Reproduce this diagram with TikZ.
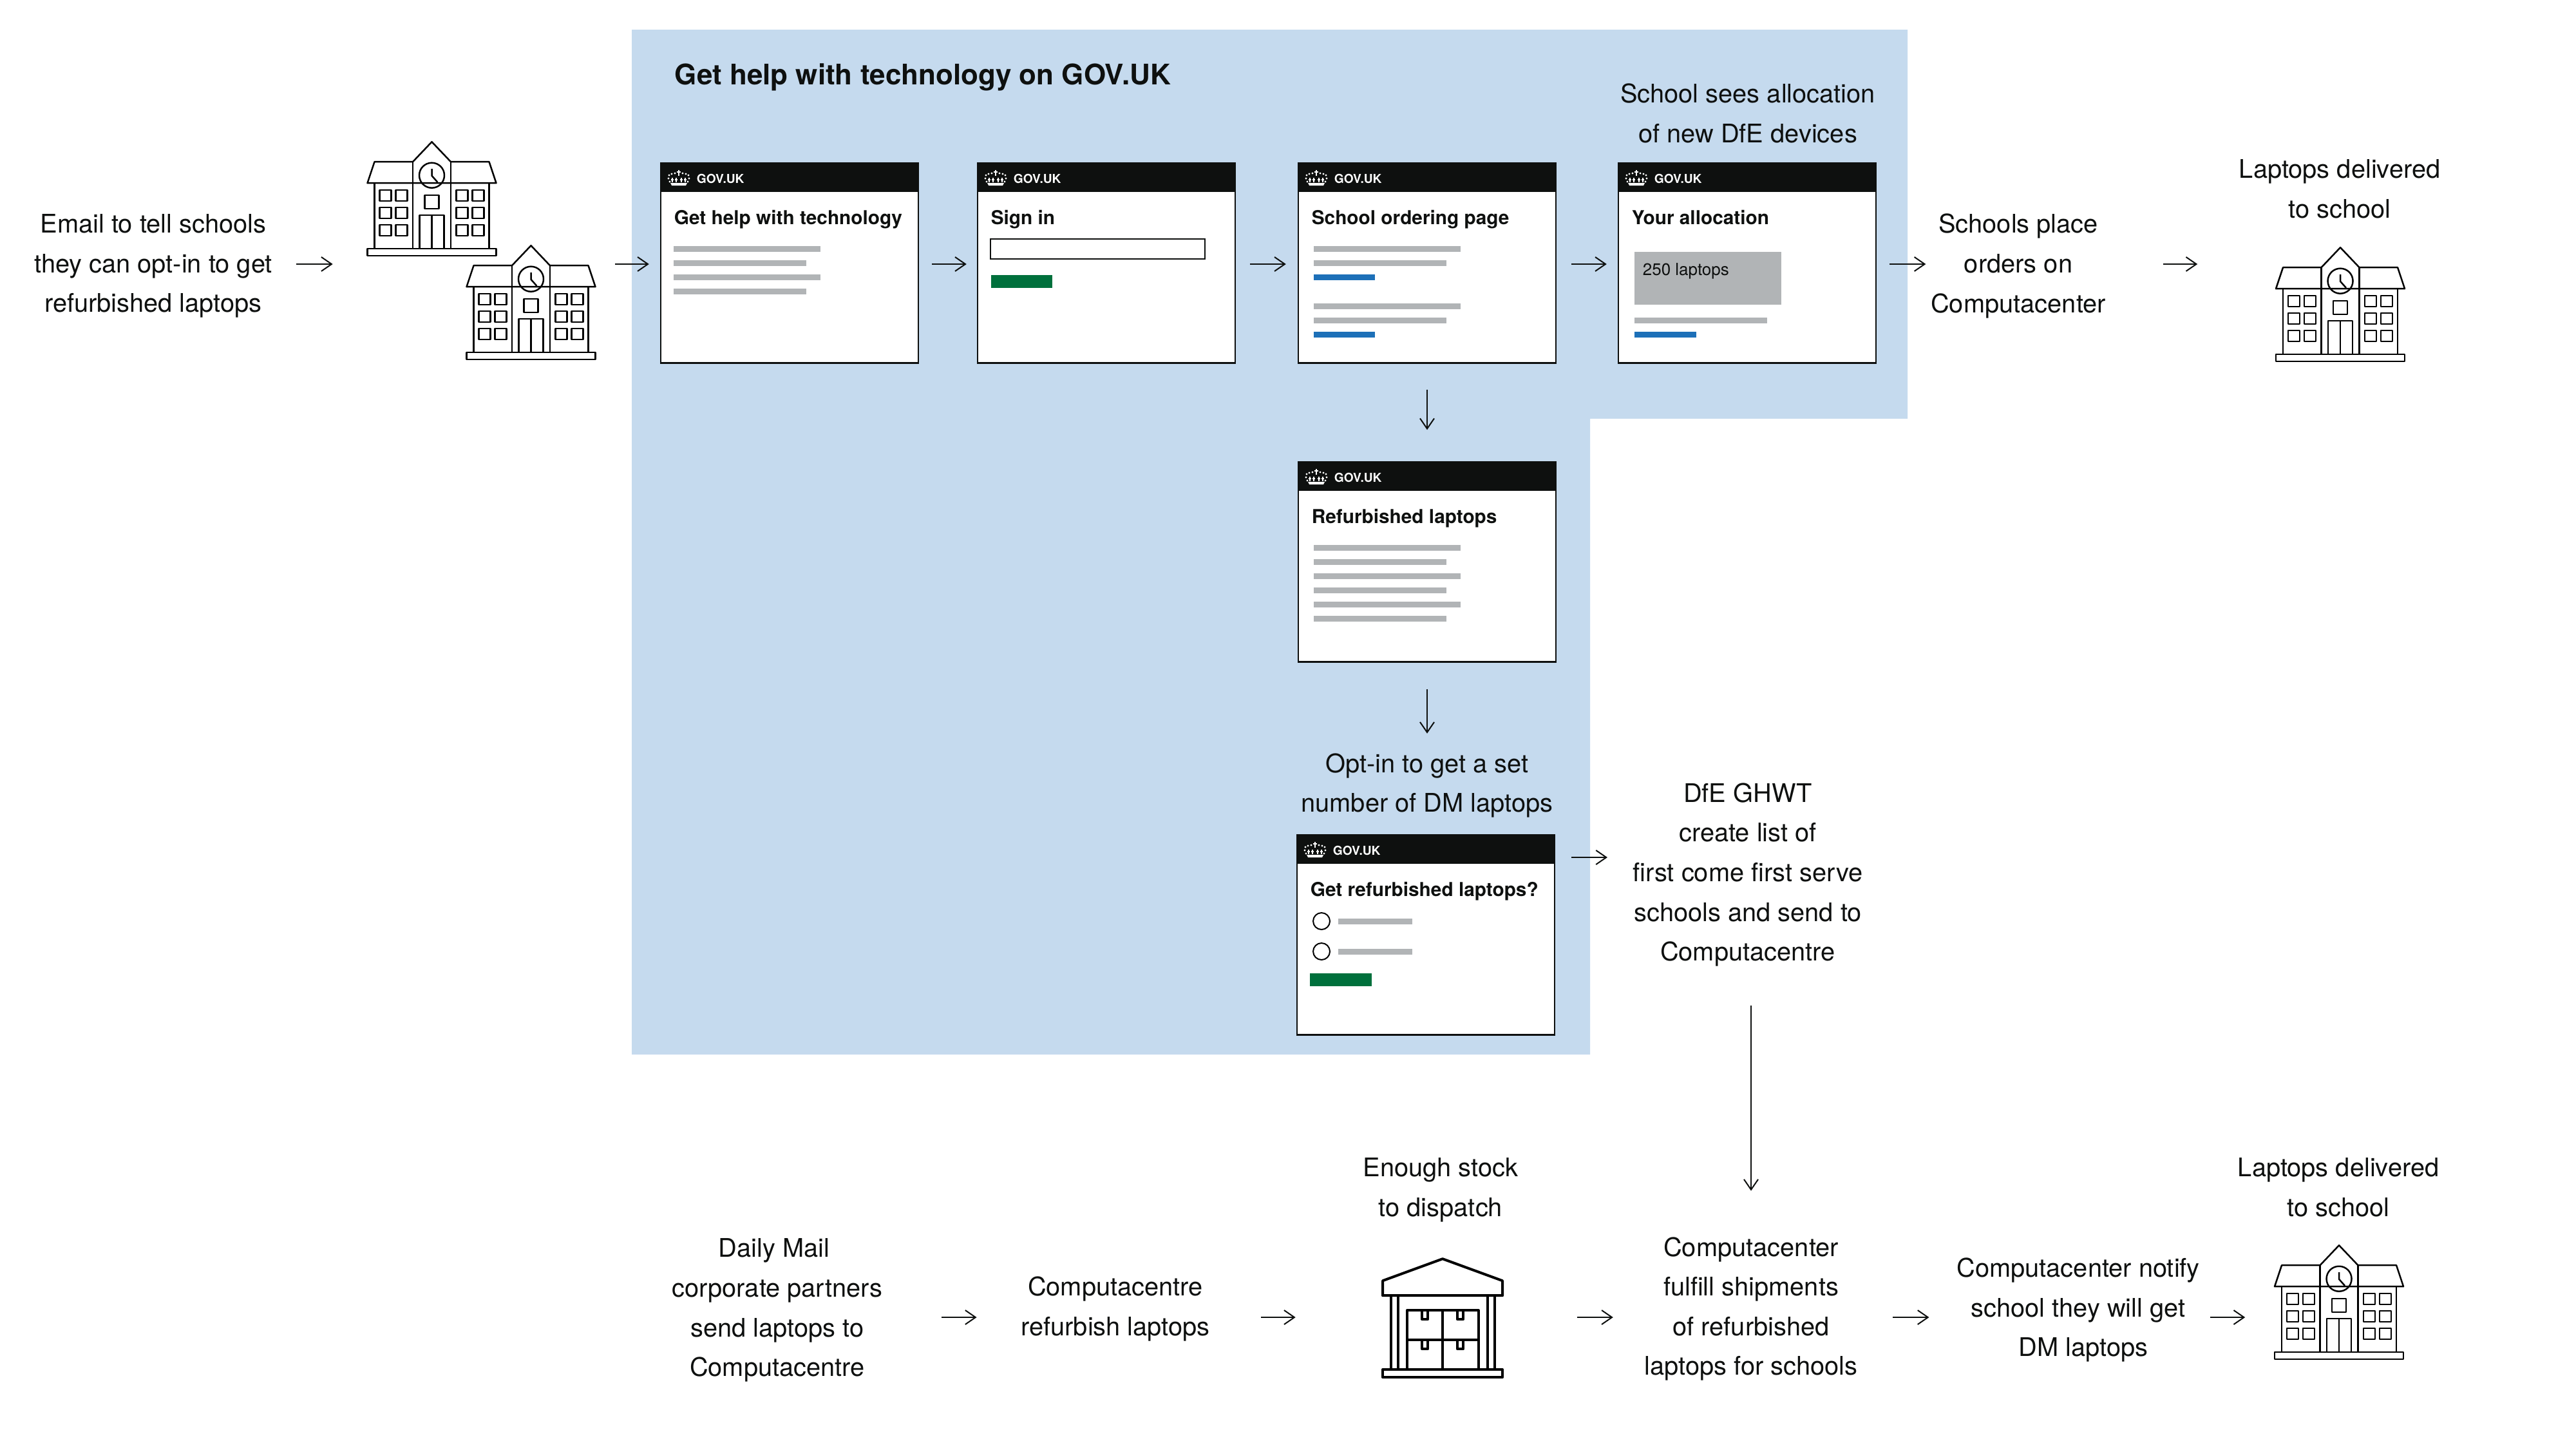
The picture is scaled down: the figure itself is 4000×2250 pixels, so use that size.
\documentclass[tikz,border=0pt]{standalone}
\usepackage{fontspec}
\setmainfont{TeX Gyre Heros}
\usepackage{xcolor}
\usetikzlibrary{arrows.meta}
\definecolor{panelblue}{HTML}{C5DAEE}
\definecolor{govblack}{HTML}{0E100F}
\definecolor{govgrey}{HTML}{B1B4B6}
\definecolor{govblue}{HTML}{1D70B8}
\definecolor{govgreen}{HTML}{00703C}
\tikzset{
  link/.style={->,>={Straight Barb[length=4pt,width=5.5pt]},line width=0.5pt,draw=govblack},
  gap/.style 2 args={shorten <=#1*0.25pt,shorten >=#2*0.25pt},
  note/.style={align=center,inner sep=0pt,text=govblack,font=\fontsize{9.95}{15.4}\selectfont},
  pagebox/.style={draw=govblack,fill=white,line width=0.6pt,inner sep=0pt,minimum width=100pt,minimum height=77.5pt},
  govmark/.style={anchor=base west,inner sep=0pt,text=white,font=\fontsize{4.8}{6}\selectfont\bfseries},
  cardtitle/.style={anchor=base west,inner sep=0pt,text=govblack,font=\fontsize{7.45}{9}\selectfont\bfseries},
  iconbox/.style={inner sep=0pt,minimum width=50pt,minimum height=44.5pt},
  crown/.pic={
    \fill[white] (-13,8) -- (13,8) -- (11,12) -- (-11,12) -- cycle;
    \draw[white,line width=0.35pt] (0,-12) -- (0,-3) (-3,-9) -- (3,-9);
    \foreach \cx in {-10,-4,4,10}
    \draw[white,line width=0.35pt] (\cx,0) -- (\cx,7) (\cx-2,3) -- (\cx+2,3);
    \foreach \dx/\dy in {-15/-4,-11/-6,-6/-7,6/-7,11/-6,15/-4,-16/1,16/1,-14/6,14/6}
    \fill[white] (\dx,\dy) circle [radius=1.6];
  },
  school/.pic={
    \begin{scope}[line width=0.62pt,line join=round,draw=black]
    \draw (-100,64) -- (-89,31) -- (-29.5,31) -- (0,0) -- (29.5,31) -- (89,31) -- (100,64) -- cycle;
    \draw (-29.5,31) -- (-29.5,166) (29.5,31) -- (29.5,166);
    \draw (-89,64) -- (-89,166) (89,64) -- (89,166);
    \draw (-100,166) rectangle (100,177);
    \draw (0,52) circle [radius=19.5];
    \draw (0,42) -- (0,52.6) -- (9,62.7);
    \draw (-11,83) rectangle (11,104);
    \draw (-19,166) -- (-19,114) -- (19,114) -- (19,166) (0,114) -- (0,166);
    \foreach \wx in {-81,-56,38,63}
    \foreach \wy in {75,102,129}
    \draw (\wx,\wy) rectangle ++(18,17);
    \end{scope}
  },
  warehouse/.pic={
    \begin{scope}[line width=1pt,line join=round,draw=black]
    \draw (0,3) -- (93,37) -- (93,60) -- (-93,60) -- (-93,37) -- cycle;
    \draw (-80,60) -- (-80,175) (-69,60) -- (-69,175) (70,60) -- (70,175) (81,60) -- (81,175);
    \draw (-93,175) rectangle (93,187);
    \draw (-55,175) -- (-55,83) -- (55.5,83) -- (55.5,175);
    \draw (0,83) -- (0,175) (-55,129) -- (55.5,129);
    \foreach \ty in {83,129}
    \foreach \tx in {-32,23}
    \draw (\tx,\ty) -- (\tx,\ty+14) -- (\tx+9,\ty+14) -- (\tx+9,\ty);
    \end{scope}
  }
}
\newcommand{\govpage}[4]{%
  \node[pagebox] (#1) at (#2+200,#3+155.5) {};
  \fill[govblack] (#2,#3) rectangle ++(400,45);
  \pic at (#2+28,#3+23) {crown};
  \node[govmark] (#1mark) at (#2+55,#3+31) {GOV.UK};
  \node[cardtitle] (#1title) at (#2+20,#3+95) {#4};
}
\newcommand{\schoolat}[3]{%
  \node[iconbox] (#1) at (#2,#3+89) {};
  \pic at (#1.north) {school};
}

\begin{document}
\begin{tikzpicture}[x=0.25pt,y=-0.25pt]
\useasboundingbox (0,0) rectangle (4000,2250);
% rails the arrows run along
\coordinate (railtop) at (0,410);
\coordinate (railopt) at (0,1331);
\coordinate (railbottom) at (0,2045);
% blue panel
\fill[panelblue] (981,46) -- (2962,46) -- (2962,650) -- (2469,650) -- (2469,1637) -- (981,1637) -- cycle;
\node[anchor=base west,inner sep=0pt,text=govblack,font=\fontsize{11}{13}\selectfont\bfseries] (paneltitle) at (1047,131) {Get help with technology on GOV.UK};
% top row
\node[note] (email) at (238,413) {Email to tell schools\\they can opt-in to get\\refurbished laptops};
\schoolat{schoola}{670.5}{221}
\schoolat{schoolb}{824.5}{382}
\govpage{home}{1026}{253}{Get help with technology}
\foreach \y/\w in {382/228,404/206,426/228,448/206}
\fill[govgrey] (1046,\y) rectangle ++(\w,9);
\govpage{signin}{1518}{253}{Sign in}
\draw[line width=0.6pt,draw=govblack] (1538,371) rectangle (1871,402);
\fill[govgreen] (1538.5,427) rectangle (1634,447);
\govpage{ordering}{2016}{253}{School ordering page}
\foreach \y/\w in {382/228,404/206,471/228,493/206}
\fill[govgrey] (2040,\y) rectangle ++(\w,9);
\foreach \y in {426,515}
\fill[govblue] (2040,\y) rectangle ++(95,9);
\govpage{allocation}{2513}{253}{Your allocation}
\fill[govgrey] (2538,391) rectangle (2766,473);
\node[anchor=base west,inner sep=0pt,text=govblack,font=\fontsize{6.5}{8}\selectfont] (allocnum) at (2550,427) {250 laptops};
\fill[govgrey] (2538,493) rectangle ++(206,9);
\fill[govblue] (2538,515) rectangle ++(96,9);
\node[note] (seesalloc) at (2714,176) {School sees allocation\\of new DfE devices};
\node[note] (place) at (3134,413) {Schools place\\orders on\\Computacenter};
\node[note] (deliveredtop) at (3633,293.5) {Laptops delivered\\to school};
\schoolat{schoolc}{3634}{385}
% middle column
\govpage{refurb}{2016}{717}{Refurbished laptops}
\foreach \y/\w in {846/228,868/206,890/228,912/206,934/228,956/206}
\fill[govgrey] (2040,\y) rectangle ++(\w,9);
\node[note] (optin) at (2216,1219.5) {Opt-in to get a set\\number of DM laptops};
\govpage{getlaptops}{2014}{1296}{Get refurbished laptops?}
\foreach \y in {1430,1477} {
\draw[line width=0.5pt,draw=black] (2052,\y) circle [radius=13];
\fill[govgrey] (2078,\y-4) rectangle ++(115,9);
}
\fill[govgreen] (2034,1511) rectangle (2130,1531);
\node[note] (ghwt) at (2714,1358) {DfE GHWT\\create list of\\first come first serve\\schools and send to\\Computacentre};
% bottom row
\node[note] (mail) at (1207,2034) {Daily Mail\hspace*{2.5pt}\\corporate partners\\send laptops to\\Computacentre};
\node[note] (refurbish) at (1732,2032) {Computacentre\\refurbish laptops};
\node[note] (stock) at (2237,1847) {Enough stock\\to dispatch};
\node[inner sep=0pt,minimum width=47.25pt,minimum height=47.25pt] (store) at (2240,2046.5) {};
\pic at (store.north) {warehouse};
\node[note] (fulfil) at (2719,2032) {Computacenter\\fulfill shipments\\of refurbished\\laptops for schools};
\node[note] (notify) at (3227,2033.5) {Computacenter notify\\school they will get\\\hspace*{4pt}DM laptops};
\node[note] (deliveredend) at (3631,1843) {Laptops delivered\\to school};
\schoolat{schoold}{3632}{1934}
% arrows
\draw[link,gap={36}{53}] (email.east |- railtop) -- (schoola.west |- railtop);
\draw[link,gap={30}{17}] (schoolb.east |- railtop) -- (home.west |- railtop);
\draw[link,gap={20}{16}] (home.east |- railtop) -- (signin.west |- railtop);
\draw[link,gap={22}{18}] (signin.east |- railtop) -- (ordering.west |- railtop);
\draw[link,gap={23}{17}] (ordering.east |- railtop) -- (allocation.west |- railtop);
\draw[link,gap={20}{7}] (allocation.east |- railtop) -- (place.west |- railtop);
\draw[link,gap={88}{121}] (place.east |- railtop) -- (schoolc.west |- railtop);
\draw[link,gap={40}{49}] (ordering.south) -- (refurb.north);
\draw[link,gap={41}{30}] (refurb.south) -- (optin.north);
\draw[link,gap={25}{39}] (getlaptops.east |- railopt) -- (ghwt.west |- railopt);
\draw[link,gap={60}{71}] (fulfil.north |- ghwt.south) -- (fulfil.north);
\draw[link,gap={91}{68}] (mail.east |- railbottom) -- (refurbish.west |- railbottom);
\draw[link,gap={79}{133}] (refurbish.east |- railbottom) -- (store.west |- railbottom);
\draw[link,gap={114}{48}] (store.east |- railbottom) -- (fulfil.west |- railbottom);
\draw[link,gap={54}{42}] (fulfil.east |- railbottom) -- (notify.west |- railbottom);
\draw[link,gap={15}{45}] (notify.east |- railbottom) -- (schoold.west |- railbottom);
\end{tikzpicture}
\end{document}
